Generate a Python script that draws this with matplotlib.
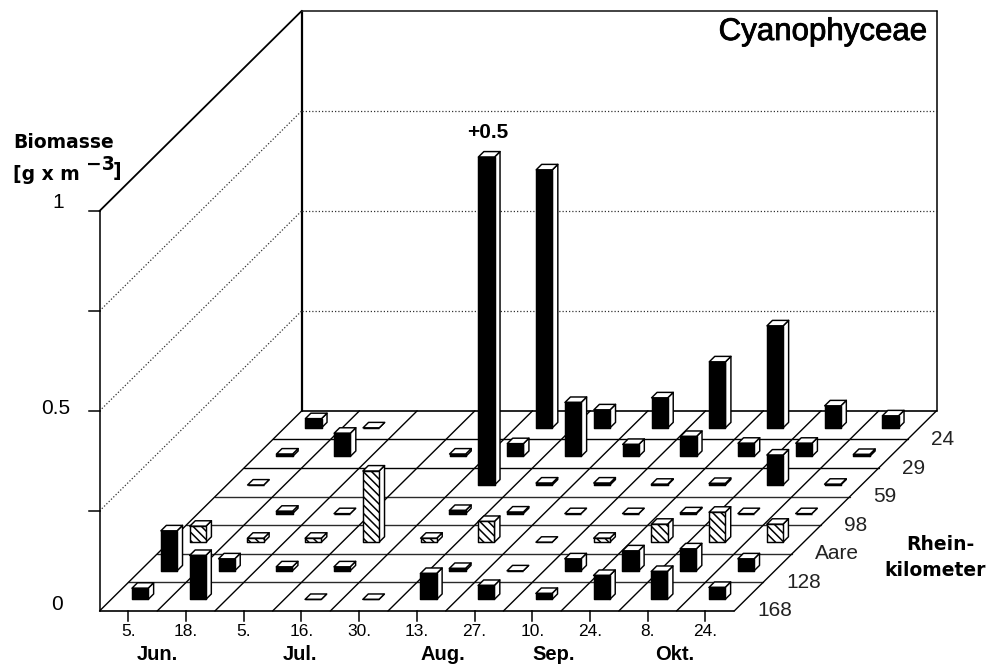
import numpy as np
import matplotlib
matplotlib.use("Agg")
import matplotlib.pyplot as plt
import matplotlib.patheffects as pe

plt.rcParams['hatch.linewidth'] = 1.1

# ---- data ----
dates = ["5.", "18.", "5.", "16.", "30.", "13.", "27.", "10.", "24.", "8.", "24."]
months = ["Jun.", "Jul.", "Aug.", "Sep.", "Okt."]
month_positions = [1.0, 3.48, 5.95, 7.87, 9.97]
stations = ["168", "128", "Aare", "98", "59", "29", "24"]
nan = float('nan')
km168 = [.028, .110, nan, .000, .000, .065, .035, .015, .060, .070, .030]
km128 = [.100, .030, .010, .010, nan, .006, .000, .030, .050, .055, .030]
aare  = [.040, .010, .010, .178, .010, .052, .000, .010, .045, .075, .045]
km98  = [nan, .006, .000, nan, .008, .004, .000, .000, .002, .000, .000]
km59  = [.000, nan, nan, nan, .820, .005, .005, .002, .004, .075, .002]
km29  = [.006, .058, nan, .006, .032, .135, .030, .050, .033, .033, .005]
km24  = [.023, .000, nan, nan, .645, .045, .075, .165, .255, .055, .030]
rows = [km168, km128, aare, km98, km59, km29, km24]
hatched_station = "Aare"
z_ticks = [0, 0.25, 0.5, 0.75, 1.0]
z_labels = {0: "0", 0.5: "0.5", 1.0: "1"}
z_wall_top = 1.0
# ------------------------------------

# oblique projection (date index, station index, biomass) -> figure pixels
X0, Y0 = 99.5, 611.0
DX, SX, SY, SZ = 57.7, 28.9, 28.6, 400.0
def proj(x, y, z=0.0):
    x, y, z = np.asarray(x, float), np.asarray(y, float), np.asarray(z, float)
    return X0 + DX * x + SX * y, Y0 - SY * y - SZ * z

fig = plt.figure(figsize=(9.86, 6.66), dpi=100, facecolor='white')
ax = fig.add_axes([0, 0, 1, 1])
ax.set_xlim(0, 986)
ax.set_ylim(666, 0)
ax.axis('off')

nc, nr = len(dates), len(stations)
K = 'black'

def line(p, q, lw=1.1, ls='-', color=K, z=1):
    ax.plot(*zip(p, q), lw=lw, ls=ls, color=color, zorder=z, solid_capstyle='round')

# walls
dots = (0, (1, 1.6))
line(proj(0, 0, 0), proj(0, 0, z_wall_top), lw=1.4, color='#333333')
line(proj(0, 0, z_wall_top), proj(0, nr, z_wall_top), lw=1.3)
line(proj(0, nr, 0), proj(0, nr, z_wall_top), lw=1.6)
line(proj(0, nr, z_wall_top), proj(nc, nr, z_wall_top), lw=1.2, color='#222222')
line(proj(nc, nr, 0), proj(nc, nr, z_wall_top), lw=1.1)
for zt in z_ticks[1:-1]:
    line(proj(0, 0, zt), proj(0, nr, zt), lw=0.9, ls=dots, color='#333333')
    line(proj(0, nr, zt), proj(nc, nr, zt), lw=0.9, ls=dots, color='#333333')
# y ticks
for zt in z_ticks:
    px, py = proj(0, 0, zt)
    if zt > 0:
        ax.plot([px - 11, px], [py, py], color=K, lw=1.1, zorder=1)
    if zt in z_labels:
        ax.text({0: 57, 0.5: 56, 1.0: 58}[zt], py - {0: 6, 0.5: 3, 1.0: 8}[zt], z_labels[zt],
                family='Liberation Sans', fontsize=15, ha='center', va='center')

# floor
for r in range(nr + 1):
    line(proj(0, r), proj(nc, r), lw=1.2 if r in (0, nr) else 1.0,
         color=K if r in (0, nr, 5, 6) else '#2a2a2a')
for c in range(nc + 1):
    line(proj(c, 0), proj(c, nr), lw=1.0)

# bars, back to front
BW, BD = 0.28, 0.19
zo = 3
for r in range(nr - 1, -1, -1):
    for c in range(nc):
        v = rows[r][c]
        if np.isnan(v):
            continue
        xa, xb = c + .5 - BW / 2, c + .5 + BW / 2
        ya, yb = r + .5 - BD / 2, r + .5 + BD / 2
        def poly(pts, **kw):
            q = [proj(*p) for p in pts]
            ax.fill([a for a, _ in q], [b for _, b in q], zorder=zo, edgecolor=K,
                    linewidth=1.05, joinstyle='round', **kw)
        zo += 1
        poly([(xb, ya, 0), (xb, yb, 0), (xb, yb, v), (xb, ya, v)], facecolor='white')
        poly([(xa, ya, v), (xb, ya, v), (xb, yb, v), (xa, yb, v)], facecolor='white')
        if stations[r] == hatched_station:
            poly([(xa, ya, 0), (xb, ya, 0), (xb, ya, v), (xa, ya, v)],
                 facecolor='white', hatch='\\\\\\\\')
        else:
            poly([(xa, ya, 0), (xb, ya, 0), (xb, ya, v), (xa, ya, v)], facecolor=K)

# date ticks
for c, lab in enumerate(dates):
    px, py = proj(c + .5, 0)
    ax.plot([px, px], [py, py + 10], color=K, lw=1.1, zorder=1)
    ax.text(px, py + 21, lab, family='Liberation Sans', fontsize=12.5, ha='center', va='center')
for m, pos in zip(months, month_positions):
    px, py = proj(pos, 0)
    ax.text(px, py + 43, m, family='Liberation Sans', weight='bold', fontsize=14.5,
            ha='center', va='center')

# station labels
for r, s in enumerate(stations):
    px, py = proj(nc, r)
    ax.text(px + 23, py, s, family='Liberation Sans', fontsize=15, ha='left', va='center', color='#222222')

# annotations
bold = dict(family='DejaVu Sans', weight='bold', fontsize=13.5, va='center')
ax.text(13, 143, "Biomasse", ha='left', **bold)
ax.text(13, 174, "[g x m", ha='left', **bold)
ax.text(86, 165, "\u22123", ha='left', **bold)
ax.text(113, 172, "]", ha='left', **bold)
ax.text(975, 545, "Rhein-", ha='right', **bold)
ax.text(986, 570, "kilometer", ha='right', **bold)
ax.text(488, 133, "+0.5", family='Liberation Sans', weight='bold', fontsize=15, ha='center', va='center')
ax.text(823, 32, "Cyanophyceae", family='Liberation Sans', fontsize=22.5, ha='center', va='center',
        path_effects=[pe.withStroke(linewidth=0.6, foreground='black')])

fig.savefig('out.png', dpi=100)
